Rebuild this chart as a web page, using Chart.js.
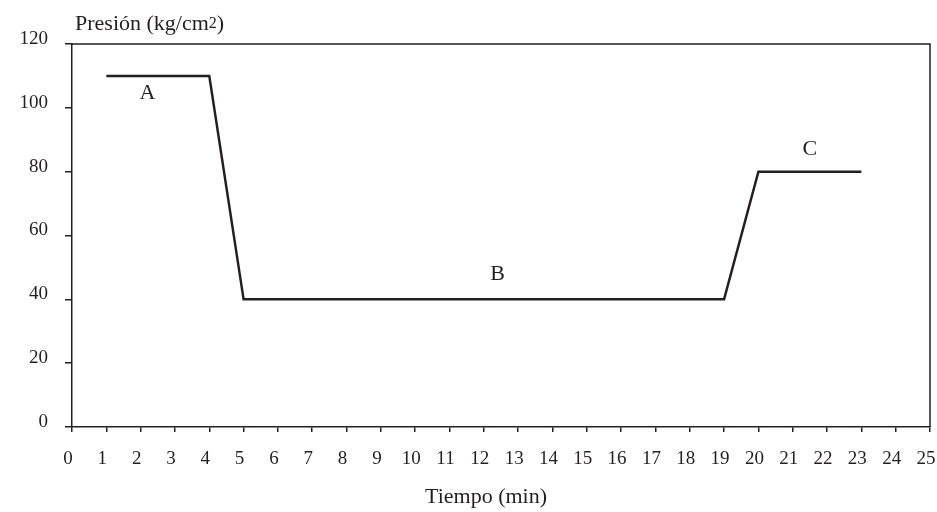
<!DOCTYPE html>
<html>
<head>
<meta charset="utf-8">
<script src="https://cdn.jsdelivr.net/npm/chart.js@4.4.1/dist/chart.umd.min.js"></script>
<style>
  html, body { margin: 0; padding: 0; background: #fff; }
  #c { display: block; }
</style>
</head>
<body>
<canvas id="c" width="937" height="512"></canvas>
<script>
// ---- data ----
const timeValues = [1, 4, 5, 19, 20, 23];
const pressureValues = [110, 110, 40, 40, 80, 80];
const xTickMin = 0, xTickMax = 25, xTickStep = 1;
const yTickMin = 0, yTickMax = 120, yTickStep = 20;
const annotationLabels = ['A', 'B', 'C'];
const annotationX = [2.2, 12.4, 21.5];
const annotationY = [104.6, 47.9, 87.1];
const yTitleMain = 'Presión (kg/cm';
const yTitleSup = '2';
const yTitleEnd = ')';
const xTitle = 'Tiempo (min)';

const INK = '#231f20';
const FONT = '"Liberation Serif", "Times New Roman", serif';

const decor = {
  id: 'decor',
  afterDraw(chart) {
    const ctx = chart.ctx;
    const a = chart.chartArea;
    const xs = chart.scales.x, ys = chart.scales.y;
    ctx.save();
    ctx.strokeStyle = INK;
    ctx.lineWidth = 1.5;
    ctx.beginPath();
    ctx.moveTo(a.left, a.top);
    ctx.lineTo(a.right, a.top);
    ctx.lineTo(a.right, a.bottom);
    ctx.stroke();
    ctx.fillStyle = INK;
    ctx.font = '22px ' + FONT;
    ctx.textBaseline = 'middle';
    ctx.textAlign = 'center';
    annotationLabels.forEach((t, i) => {
      ctx.fillText(t, xs.getPixelForValue(annotationX[i]), ys.getPixelForValue(annotationY[i]));
    });
    // y title
    ctx.textAlign = 'left';
    ctx.textBaseline = 'alphabetic';
    let tx = a.left + 3;
    const base = 30;
    ctx.font = '22px ' + FONT;
    ctx.fillText(yTitleMain, tx, base);
    tx += ctx.measureText(yTitleMain).width;
    ctx.font = '16px ' + FONT;
    ctx.fillText(yTitleSup, tx, base - 2);
    tx += ctx.measureText(yTitleSup).width;
    ctx.font = '22px ' + FONT;
    ctx.fillText(yTitleEnd, tx, base);
    // x title
    ctx.textAlign = 'center';
    ctx.fillText(xTitle, 486, 503);
    ctx.restore();
  }
};

new Chart(document.getElementById('c'), {
  type: 'line',
  data: {
    datasets: [{
      data: timeValues.map((t, i) => ({ x: t, y: pressureValues[i] })),
      borderColor: INK,
      borderWidth: 2.5,
      pointRadius: 0,
      tension: 0,
      fill: false
    }]
  },
  options: {
    responsive: false,
    animation: false,
    devicePixelRatio: 1,
    layout: { padding: { top: 44, right: 7, left: 0, bottom: 0 } },
    plugins: { legend: { display: false }, tooltip: { enabled: false }, title: { display: false } },
    scales: {
      x: {
        type: 'linear',
        min: xTickMin, max: xTickMax,
        afterFit(s) { s.height = 85; s.paddingRight = 0; s.paddingLeft = 0; },
        ticks: {
          stepSize: xTickStep, color: INK, padding: 16, labelOffset: -4,
          maxRotation: 0, autoSkip: false,
          font: { family: FONT, size: 19 }
        },
        grid: { drawOnChartArea: false, drawTicks: true, tickLength: 5, color: INK, lineWidth: 1.5 },
        border: { display: true, color: INK, width: 1.5 }
      },
      y: {
        min: yTickMin, max: yTickMax,
        afterFit(s) { s.width = 72; s.paddingTop = 0; s.paddingBottom = 0; },
        ticks: {
          stepSize: yTickStep, color: INK, padding: 17, labelOffset: -5,
          font: { family: FONT, size: 19 }
        },
        grid: { drawOnChartArea: false, drawTicks: true, tickLength: 7, color: INK, lineWidth: 1.5 },
        border: { display: true, color: INK, width: 1.5 }
      }
    }
  },
  plugins: [decor]
});
</script>
</body>
</html>
